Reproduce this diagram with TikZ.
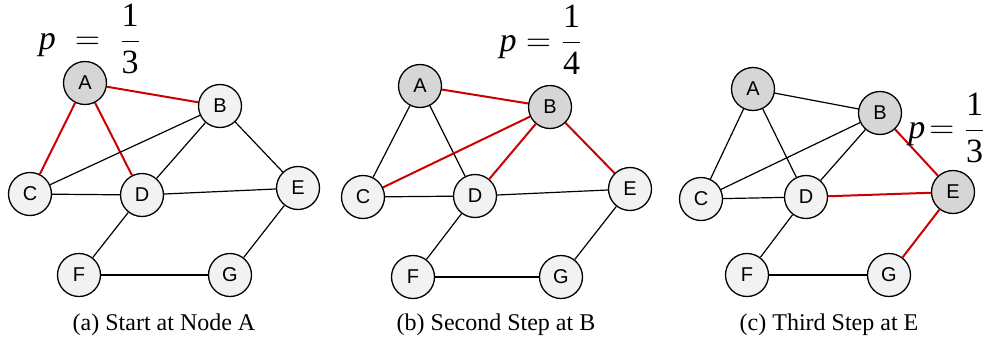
\documentclass[tikz,border=0pt]{standalone}
\usepackage{amsmath}
\usepackage{fontspec}
\setmainfont{Liberation Serif}
\setsansfont{Liberation Sans}
\usepackage{tikz}
\usetikzlibrary{positioning}
\usepackage{xcolor}

\definecolor{walkred}{HTML}{CC0000}
\definecolor{nodegray}{HTML}{F2F2F2}
\definecolor{seengray}{HTML}{D6D6D6}

\tikzset{
  vert/.style={circle, draw, line width=0.65pt, fill=nodegray, minimum size=21.5pt,
    inner sep=0pt, font=\sffamily\fontsize{10}{12}\selectfont},
  seen/.style={vert, fill=seengray},
  edge/.style={line width=0.6pt},
  walk/.style={walkred, line width=1pt},
  prob/.style={font=\fontsize{17}{20}\selectfont, inner sep=0pt},
  caption/.style={font=\fontsize{12}{14}\selectfont}
}

\begin{document}
\begin{tikzpicture}[x=0.5pt, y=-0.5pt]
  \useasboundingbox (0,0) rectangle (986,343);
  % (a) start at A
  \node[seen] (aA) at (85,83) {A};
  \node[vert] (aB) at (220,106) {B};
  \node[vert] (aC) at (30,194) {C};
  \node[vert] (aD) at (142,195) {D};
  \node[vert] (aE) at (298,188) {E};
  \node[vert] (aF) at (79,275) {F};
  \node[vert] (aG) at (230,275) {G};
  \draw[walk] (aA) -- (aB);
  \draw[walk] (aA) -- (aC);
  \draw[walk] (aA) -- (aD);
  \draw[edge] (aB) -- (aC);
  \draw[edge] (aB) -- (aD);
  \draw[edge] (aB) -- (aE);
  \draw[edge] (aC) -- (aD);
  \draw[edge] (aD) -- (aE);
  \draw[edge] (aD) -- (aF);
  \draw[edge] (aE) -- (aG);
  \draw[edge] (aF) -- (aG);
  \node[prob] (pa) at (90,39) {$\textit{p} \;=\; \dfrac{\textrm{1}}{\textrm{3}}$};
  \node[caption] (capa) at (164,325) {(a) Start at Node A};

  % (b) second step at B
  \node[seen] (bA) at (420,86) {A};
  \node[seen] (bB) at (550,107) {B};
  \node[vert] (bC) at (363,197) {C};
  \node[vert] (bD) at (475,196) {D};
  \node[vert] (bE) at (630,189) {E};
  \node[vert] (bF) at (413,277) {F};
  \node[vert] (bG) at (561,277) {G};
  \draw[walk] (bA) -- (bB);
  \draw[edge] (bA) -- (bC);
  \draw[edge] (bA) -- (bD);
  \draw[walk] (bB) -- (bC);
  \draw[walk] (bB) -- (bD);
  \draw[walk] (bB) -- (bE);
  \draw[edge] (bC) -- (bD);
  \draw[edge] (bD) -- (bE);
  \draw[edge] (bD) -- (bF);
  \draw[edge] (bE) -- (bG);
  \draw[edge] (bF) -- (bG);
  \node[prob] (pb) at (541,40) {$\textit{p} = \dfrac{\textrm{1}}{\textrm{4}}$};
  \node[caption] (capb) at (496,325) {(b) Second Step at B};

  % (c) third step at E
  \node[seen] (cA) at (753,89) {A};
  \node[seen] (cB) at (880,113) {B};
  \node[vert] (cC) at (701,199) {C};
  \node[vert] (cD) at (806,197) {D};
  \node[seen] (cE) at (953,192) {E};
  \node[vert] (cF) at (747,275) {F};
  \node[vert] (cG) at (889,275) {G};
  \draw[edge] (cA) -- (cB);
  \draw[edge] (cA) -- (cC);
  \draw[edge] (cA) -- (cD);
  \draw[edge] (cB) -- (cC);
  \draw[edge] (cB) -- (cD);
  \draw[walk] (cB) -- (cE);
  \draw[edge] (cC) -- (cD);
  \draw[walk] (cD) -- (cE);
  \draw[edge] (cD) -- (cF);
  \draw[walk] (cE) -- (cG);
  \draw[edge] (cF) -- (cG);
  \node[prob, anchor=east] (pc) at (986,128) {$\textit{p} \mkern-3mu= \dfrac{\textrm{1}}{\textrm{3}}$};
  \node[caption] (capc) at (829,325) {(c) Third Step at E};
\end{tikzpicture}
\end{document}
